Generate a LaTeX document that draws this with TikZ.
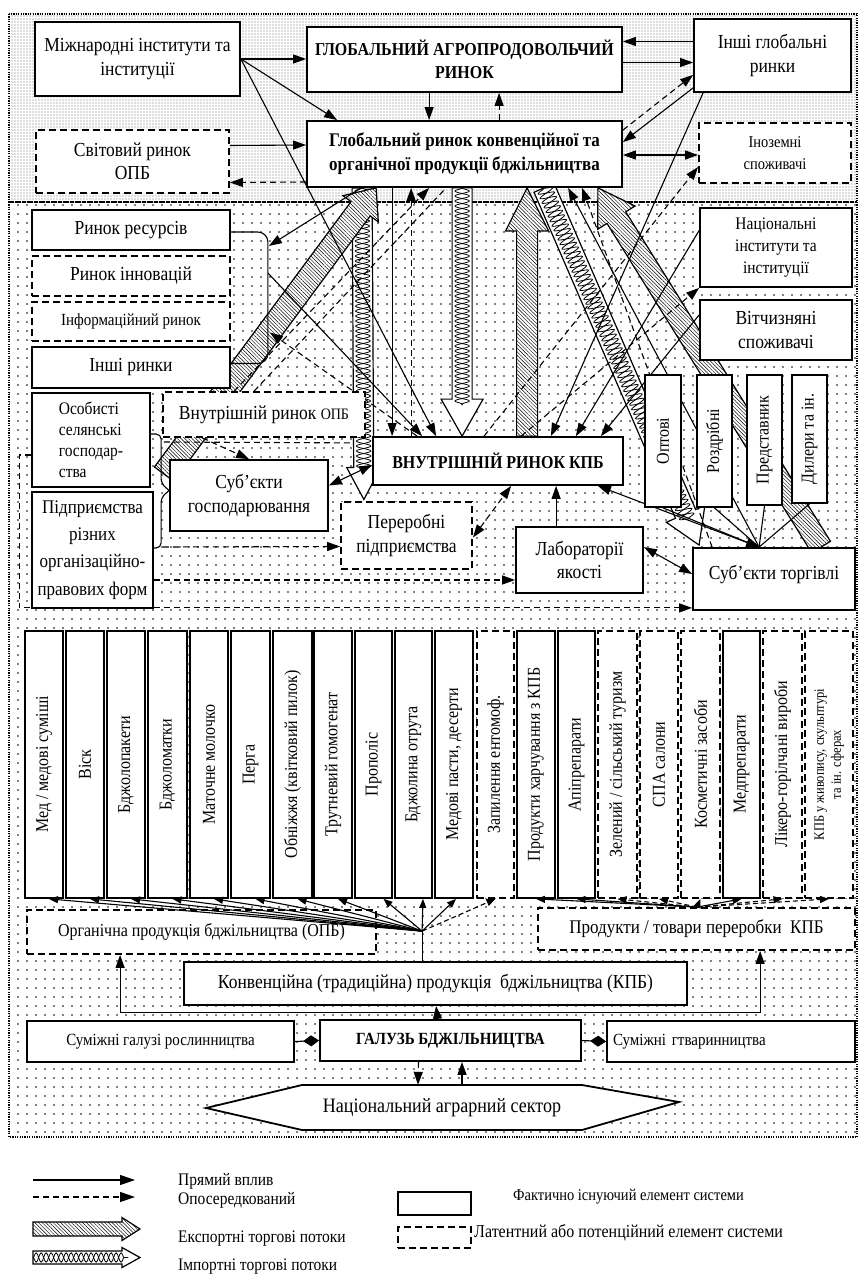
\documentclass[tikz,border=0pt]{standalone}
\usepackage{fontspec}
\setmainfont{Liberation Serif}[FakeStretch=0.88]
\usepackage{graphicx}
\usetikzlibrary{calc,arrows.meta,patterns.meta,decorations.pathmorphing}
\pgfdeclarelayer{bg}
\pgfdeclarelayer{mid}
\pgfsetlayers{bg,mid,main}
\newcommand\fs[2]{\fontsize{\fpeval{#1*1.136}}{\fpeval{#2*1.136}}\selectfont}
\newcommand\bx[7][]{%
  \pgfmathsetmacro\bxw{#5-#3}%
  \pgfmathsetmacro\bxh{#6-#4}%
  \pgfmathsetmacro\bxcx{(#3+#5)/2}%
  \pgfmathsetmacro\bxcy{(#4+#6)/2}%
  \node[box,minimum width=\bxw pt,minimum height=\bxh pt,#1] (#2) at (\bxcx,\bxcy) {#7};}
\newcommand\exparr[5]{%
  \coordinate (fa) at #1;\coordinate (fb) at #2;
  \coordinate (fh) at ($(fb)!#5pt!(fa)$);
  \draw[fatline,preaction={fill=white},pattern={Lines[angle=-45,distance=2.6pt,line width=0.45pt]}]
   ($(fa)!#3pt!90:(fb)$) -- ($(fh)!#3pt!90:(fb)$) -- ($(fh)!#4pt!90:(fb)$) -- (fb) -- ($(fh)!#4pt!-90:(fb)$) -- ($(fh)!#3pt!-90:(fb)$) -- ($(fa)!#3pt!-90:(fb)$) -- cycle;}
\newcommand\imparr[5]{%
  \coordinate (fa) at #1;\coordinate (fb) at #2;
  \coordinate (fh) at ($(fb)!#5pt!(fa)$);
  \draw[fatline,fill=white]
   ($(fa)!#3pt!90:(fb)$) -- ($(fh)!#3pt!90:(fb)$) -- ($(fh)!#4pt!90:(fb)$) -- (fb) -- ($(fh)!#4pt!-90:(fb)$) -- ($(fh)!#3pt!-90:(fb)$) -- ($(fa)!#3pt!-90:(fb)$) -- cycle;
  \draw[line width=0.8pt,decorate,decoration={snake,amplitude=#3pt*0.72,segment length=10pt}] (fa) -- ($(fh)!6pt!(fb)$);
  \draw[line width=0.8pt,decorate,decoration={snake,amplitude=#3pt*0.72,segment length=10pt,mirror}] (fa) -- ($(fh)!6pt!(fb)$);}
\begin{document}
\begin{tikzpicture}[x=1pt,y=-1pt,
  box/.style={draw,fill=white,line width=1.8pt,align=center,inner sep=1pt,font=\fs{17.5}{20.5}},
  lat/.style={dash pattern=on 7pt off 4pt},
  fatline/.style={line width=1.2pt,line join=miter},
  ln/.style={line width=1.1pt},
  arr/.style={ln,-{Triangle[length=13pt,width=9pt]}},
  arr2/.style={ln,{Triangle[length=13pt,width=9pt]}-{Triangle[length=13pt,width=9pt]}},
  darr/.style={arr,dash pattern=on 6pt off 4pt},
  darr2/.style={arr2,dash pattern=on 6pt off 4pt},
  dln/.style={ln,dash pattern=on 6pt off 4pt},
  farr/.style={ln,-{Triangle[length=9pt,width=7pt]}},
  dfarr/.style={farr,dash pattern=on 5pt off 3pt},
  col/.style={box,font=\fs{16}{19}},
  lg/.style={anchor=west,inner sep=0pt,font=\fs{15.5}{18}}]
\useasboundingbox (0,0) rectangle (861,1276);
\begin{pgfonlayer}{bg}
\fill[white] (0,0) rectangle (861,1276);
\fill[pattern={Dots[distance=3pt,radius=0.6pt]},pattern color=black!55] (9,14) rectangle (857,202);
\fill[pattern={Dots[distance=9pt,radius=0.85pt]},pattern color=black] (9,202) rectangle (857,1137);
\draw[line width=1.6pt,dash pattern=on 1.2pt off 1.2pt] (9,14) rectangle (857,202);
\draw[line width=1.6pt,dash pattern=on 1.2pt off 1.2pt] (9,202) rectangle (857,1137);
\end{pgfonlayer}
% ---------- top boxes
\bx{MI}{35}{22}{240}{96}{Міжнародні інститути та\\інституції}
\bx[font=\fs{16}{20}\bfseries]{GAR}{307}{27}{622}{92}{ГЛОБАЛЬНИЙ АГРОПРОДОВОЛЬЧИЙ\\РИНОК}
\bx{IGR}{694}{19}{851}{92}{Інші глобальні\\ринки}
\bx[lat]{SR}{36}{130}{229}{193}{Світовий ринок\\ОПБ}
\bx[font=\fs{17}{21}\bfseries]{GRK}{307}{121}{622}{187}{Глобальний ринок конвенційної та\\органічної продукції бджільництва}
\bx[lat,font=\fs{14.5}{19}]{IS}{699}{123}{851}{183}{Іноземні\\споживачі}
% ---------- middle boxes
\bx{RR}{32}{210}{230}{250}{Ринок ресурсів}
\bx[lat]{RI}{32}{256}{230}{296}{Ринок інновацій}
\bx[lat,font=\fs{15}{18}]{IRN}{32}{302}{230}{341}{Інформаційний ринок}
\bx{IR}{32}{347}{230}{388}{Інші ринки}
\bx[align=left,font=\fs{15.5}{18.5}]{OS}{32}{393}{150}{487}{Особисті\\селянські\\господар-\\ства}
\bx[font=\fs{17}{24}]{PR}{32}{492}{153}{608}{Підприємства\\різних\\організаційно-\\правових форм}
\bx[lat]{VO}{163}{392}{365}{437}{Внутрішній ринок {\fs{14}{16}ОПБ}}
\bx{SG}{170}{460}{328}{531}{Суб'єкти\\господарювання}
\bx[font=\fs{16}{20}\bfseries]{VK}{373}{437}{623}{485}{ВНУТРІШНІЙ РИНОК КПБ}
\bx[lat]{PP}{341}{502}{472}{569}{Переробні\\підприємства}
\bx{LY}{516}{527}{643}{593}{Лабораторії\\якості}
\bx[text depth=14pt]{ST}{693}{548}{855}{610}{Суб'єкти торгівлі}
\bx[font=\fs{15.5}{19}]{NI}{700}{208}{852}{287}{Національні\\інститути та\\інституції}
\bx{VS}{700}{300}{852}{360}{Вітчизняні\\споживачі}
\bx[font=\fs{16}{19}]{OP}{645}{375}{681}{507}{\rotatebox{90}{Оптові}}
\bx[font=\fs{16}{19}]{RO}{697}{375}{732}{507}{\rotatebox{90}{Роздрібні}}
\bx[font=\fs{16}{19}]{PD}{747}{375}{782}{505}{\rotatebox{90}{Представник}}
\bx[font=\fs{16}{19}]{DL}{792}{375}{827}{503}{\rotatebox{90}{Дилери та ін.}}
% ---------- product columns
\bx[col]{c1}{25}{631}{63}{898}{\rotatebox{90}{Мед / медові суміші}}
\bx[col]{c2}{66}{631}{104}{898}{\rotatebox{90}{Віск}}
\bx[col]{c3}{107}{631}{145}{898}{\rotatebox{90}{Бджолопакети}}
\bx[col]{c4}{148}{631}{187}{898}{\rotatebox{90}{Бджоломатки}}
\bx[col]{c5}{190}{631}{228}{898}{\rotatebox{90}{Маточне молочко}}
\bx[col]{c6}{231}{631}{270}{898}{\rotatebox{90}{Перга}}
\bx[col]{c7}{273}{631}{312}{898}{\rotatebox{90}{Обніжжя (квітковий пилок)}}
\bx[col]{c8}{314}{631}{352}{898}{\rotatebox{90}{Трутневий гомогенат}}
\bx[col]{c9}{355}{631}{392}{898}{\rotatebox{90}{Прополіс}}
\bx[col]{c10}{395}{631}{432}{898}{\rotatebox{90}{Бджолина отрута}}
\bx[col]{c11}{435}{631}{473}{898}{\rotatebox{90}{Медові пасти, десерти}}
\bx[col,lat]{c12}{477}{631}{514}{898}{\rotatebox{90}{Запилення ентомоф.}}
\bx[col]{c13}{517}{631}{555}{898}{\rotatebox{90}{Продукти харчування з КПБ}}
\bx[col]{c14}{558}{631}{595}{898}{\rotatebox{90}{Апіпрепарати}}
\bx[col,lat]{c15}{598}{631}{637}{898}{\rotatebox{90}{Зелений / сільський туризм}}
\bx[col,lat]{c16}{640}{631}{678}{898}{\rotatebox{90}{СПА салони}}
\bx[col,lat]{c17}{681}{631}{720}{898}{\rotatebox{90}{Косметичні засоби}}
\bx[col]{c18}{723}{631}{760}{898}{\rotatebox{90}{Медпрепарати}}
\bx[col,lat]{c19}{763}{631}{802}{898}{\rotatebox{90}{Лікеро-горілчані вироби}}
\bx[col,lat,font=\fs{12.5}{15}]{c20}{805}{631}{853}{898}{\rotatebox{90}{\begin{tabular}{@{}c@{}}КПБ у живопису, скульптурі\\та ін. сферах\end{tabular}}}
% ---------- bottom boxes
\bx[lat,font=\fs{16}{19}]{OPB}{27}{910}{376}{954}{Органічна продукція бджільництва (ОПБ)}
\bx[lat,font=\fs{17}{20}]{PT}{538}{908}{855}{950}{Продукти / товари переробки\ \ КПБ}
\bx{KPB}{184}{962}{687}{1005}{Конвенційна (традиційна) продукція\ \ бджільництва (КПБ)}
\bx[font=\fs{15}{18}]{SGR}{27}{1021}{294}{1062}{Суміжні галузі рослинництва}
\bx[font=\fs{15}{18}\bfseries]{GB}{320}{1020}{581}{1061}{ГАЛУЗЬ БДЖІЛЬНИЦТВА}
\bx[font=\fs{15}{18},align=left,text width=236pt]{SGT}{607}{1021}{855}{1062}{Суміжні гтваринництва}
\draw[line width=1.8pt,fill=white] (206,1108) -- (302,1085) -- (582,1085) -- (679,1102) -- (582,1130) -- (302,1130) -- cycle;
\node[font=\fs{18}{20},minimum width=280pt,minimum height=45pt,inner sep=0pt] (NAS) at (442,1107.5) {Національний аграрний сектор};
% ---------- bottom connectors
\coordinate (F1) at ($(KPB.north west)+(239,-30)$);
\coordinate (F2) at ($(PT.north west)+(160,0)$);
\draw[ln] ($(KPB.north west)+(239,0)$) -- (F1);
\foreach \i in {1,...,8} \draw[farr] (F1) -- ($(c\i.south)+(5,0)$);
\draw[farr] (F1) -- ($(c9.south)+(10,0)$);
\draw[farr] (F1) -- ($(c10.south)+(9.5,0)$);
\draw[farr] (F1) -- ($(c11.south)+(2,0)$);
\draw[dfarr] (F1) -- (c12.south);
\foreach \i in {13,14,18} \draw[farr] (F2) -- (c\i.south);
\foreach \i in {15,16,17,19,20} \draw[dfarr] (F2) -- (c\i.south);
\draw[arr] ($(GB.north)+(-13,0)$) -- ($(KPB.south west)+(253,0)$);
\coordinate (BR) at ($(GB.north)+(-13,-7)$);
\draw[arr] (BR) -| ($(OPB.south west)+(94,0)$);
\draw[arr] (BR) -| ($(PT.south west)+(223,0)$);
\draw[ln,-{Diamond[length=16pt,width=11pt]}] (SGR.east) -- (GB.west);
\draw[ln,-{Diamond[length=16pt,width=11pt]}] (GB.east) -- (SGT.west);
\draw[darr] ($(GB.south)+(-32,0)$) -- ($(NAS.north)+(-24,0)$);
\draw[arr] ($(NAS.north)+(20,0)$) -- ($(GB.south)+(11.5,0)$);
% ---------- middle and top connectors
\begin{pgfonlayer}{mid}
\imparr{($(GRK.south west)+(56,0)$)}{($(SG.east)+(35,4)$)}{10}{17}{32}
\exparr{($(SG.north west)+(-5,15)$)}{($(GRK.south west)+(70,0)$)}{12}{22}{26}
\imparr{($(GRK.south west)+(156,0)$)}{($(VK.north west)+(90,0)$)}{10}{21}{37}
\exparr{($(VK.north west)+(155,0)$)}{($(GRK.south west)+(221,0)$)}{10.5}{21.5}{43}
\imparr{($(GRK.south west)+(238,0)$)}{($(ST.north west)+(7,-2)$)}{11}{21}{34}
\exparr{($(ST.north west)+(129,0)$)}{($(GRK.south east)+(-25,0)$)}{11}{22}{35}
% top
\draw[arr] (MI.east) -- (MI.east -| GAR.west);
\draw[arr] (MI.east) -- ($(GRK.north west)+(31,0)$);
\draw[arr] (MI.east) -- ($(VK.north west)+(64,0)$);
\draw[arr] ($(GAR.south west)+(123,0)$) -- ($(GRK.north west)+(123,0)$);
\draw[darr] ($(GRK.north west)+(193,0)$) -- ($(GAR.south west)+(193,0)$);
\draw[arr] ($(IGR.west)+(0,-14)$) -- ($(GAR.east)+(0,-18)$);
\draw[arr] ($(GAR.east)+(0,3)$) -- ($(IGR.west)+(0,7)$);
\draw[darr] ($(GRK.north east)+(0,10)$) -- ($(IGR.south west)+(0,-18)$);
\draw[arr] ($(IGR.south west)+(0,-5)$) -- ($(GRK.north east)+(0,22)$);
\draw[arr2] ($(GRK.east)+(0,1)$) -- ($(IS.west)+(0,2)$);
\draw[arr] ($(SR.east)+(0,-16)$) -- ($(GRK.west)+(0,-9)$);
\draw[darr] ($(GRK.west)+(0,28)$) -- ($(SR.east)+(0,21)$);
% middle
\coordinate (brT) at ($(RR.east)+(38,16)$);
\draw[arr] ($(GRK.south west)+(55,0)$) -- (brT);
\draw[ln,rounded corners=10pt] ($(RR.east)+(0,2)$) -| ($(IR.east)+(37,-4)$) -- ($(IR.east)+(0,-4)$);
\draw[arr] ($(RR.east)+(37,43)$) -- ($(VK.north west)+(50,0)$);
\draw[darr] ($(VK.north west)+(45,0)$) -- ($(IR.east)+(39,-35)$);
\draw[arr] ($(GRK.south west)+(86,0)$) -- ($(VK.north west)+(20,0)$);
\draw[darr] ($(VK.north west)+(39,0)$) -- ($(GRK.south west)+(105,0)$);
\draw[darr] ($(VO.north west)+(72,0)$) -- ($(GRK.south west)+(123,0)$);
\draw[dln] ($(VO.north west)+(92,0)$) -- ($(GRK.south west)+(140,0)$);
\draw[arr] ($(IGR.south west)+(10,0)$) -- ($(VK.north east)+(-73,0)$);
\draw[arr] ($(NI.west)+(0,-17)$) -- ($(VK.north east)+(-48,0)$);
\draw[arr] ($(VS.west)+(0,-15)$) -- ($(VK.north east)+(-23,0)$);
\draw[darr] ($(VK.north west)+(149,0)$) -- (NI.south west);
\draw[darr] ($(VK.north west)+(112,0)$) -- ($(IS.west)+(0,14)$);
\draw[darr] ($(ST.north west)+(20,0)$) -- ($(GRK.south west)+(276,0)$);
\draw[arr] ($(ST.north west)+(67,0)$) -- ($(GRK.south west)+(262,0)$);
\draw[arr2] ($(ST.north west)+(67,0)$) -- ($(VK.south east)+(-26,0)$);
\foreach \b in {OP,RO,PD,DL} \draw[ln] ($(ST.north west)+(67,0)$) -- (\b.south);
\draw[arr2] ($(LY.north east)+(0,21)$) -- ($(ST.west)+(0,-5)$);
\draw[arr] ($(LY.north west)+(41,0)$) -- ($(VK.south west)+(184,0)$);
\draw[darr2] ($(PP.east)+(0,2)$) -- ($(VK.south west)+(139,0)$);
\draw[arr2] ($(SG.east)+(0,-10)$) -- ($(VK.west)+(0,4)$);
\draw[ln,rounded corners=5pt] ($(OS.east)+(0,-6)$) -| ($(SG.west)+(-8,-12)$) -- ($(SG.west)+(0,-5)$);
\draw[ln,rounded corners=5pt] ($(PR.east)+(0,-2)$) -| ($(SG.west)+(-8,2)$) -- ($(SG.west)+(0,-5)$);
\draw[darr] ($(PR.east)+(9,-3)$) -- ($(PP.west)+(0,11)$);
\draw[dln] ($(OS.east)+(13,2)$) -- ($(VO.south east)+(-13,5)$);
\draw[darr] ($(VO.south west)+(40,0)$) -- ($(SG.north west)+(80,0)$);
\draw[darr] ($(PR.east)+(0,30)$) -- ($(LY.west)+(0,20)$);
\draw[darr] ($(OS.west)+(0,15)$) -- ++(-12,0) |- ($(ST.south west)+(0,-3)$);
\end{pgfonlayer}
% ---------- legend
\coordinate (la1) at (33,1180); \coordinate (lb1) at (135,1180);
\draw[ln,-{Triangle[length=15pt,width=10pt]}] (la1) -- (lb1);
\coordinate (la2) at (33,1197); \coordinate (lb2) at (135,1197);
\draw[ln,dash pattern=on 6pt off 4pt,-{Triangle[length=15pt,width=10pt]}] (la2) -- (lb2);
\node[lg] (lg1) at (178,1181) {Прямий вплив};
\node[lg] (lg2) at (178,1200) {Опосередкований};
\node[box,minimum width=73pt,minimum height=23pt] (lgb1) at (434.5,1203.5) {};
\node[lg,font=\fs{14.5}{17}] (lg3) at (513,1197) {Фактично існуючий елемент системи};
\node[box,lat,minimum width=73pt,minimum height=21pt] (lgb2) at (434.5,1237.5) {};
\node[lg,font=\fs{16}{19}] (lg4) at (474,1233) {Латентний або потенційний елемент системи};
\exparr{(33,1229)}{(140,1229)}{7}{11.5}{18}
\node[lg] (lg5) at (178,1239) {Експортні торгові потоки};
\imparr{(33,1257.5)}{(140,1257.5)}{6.5}{10}{18}
\node[lg] (lg6) at (178,1267) {Імпортні торгові потоки};
\end{tikzpicture}
\end{document}
